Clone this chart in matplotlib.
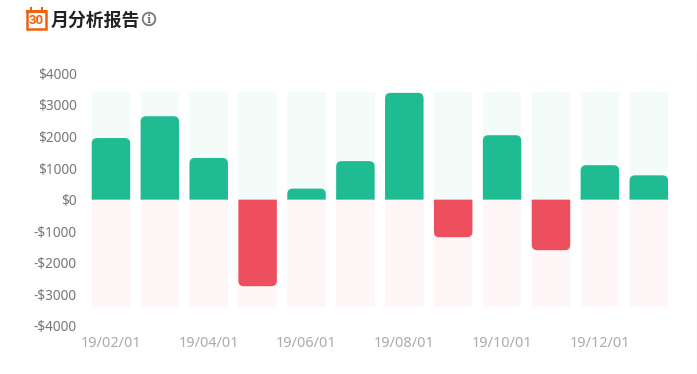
import numpy as np
import matplotlib
matplotlib.use("Agg")
import matplotlib.pyplot as plt
from matplotlib.path import Path
from matplotlib.patches import PathPatch, Rectangle, Circle

months = ['19/02/01', '19/03/01', '19/04/01', '19/05/01', '19/06/01', '19/07/01',
          '19/08/01', '19/09/01', '19/10/01', '19/11/01', '19/12/01', '20/01/01']
values = [1950, 2640, 1320, -2740, 350, 1220, 3380, -1190, 2040, -1600, 1090, 770]
back_top = 3400
back_bottom = -3400
y_ticks = [-4000, -3000, -2000, -1000, 0, 1000, 2000, 3000, 4000]
y_labels = ['-$4000', '-$3000', '-$2000', '-$1000', '$0', '$1000', '$2000', '$3000', '$4000']

GREEN = '#1fbc94'
RED = '#ee4f5f'
W, H = 697, 374

plt.rcParams['font.family'] = ['Noto Sans CJK SC', 'DejaVu Sans']


def px_axes(fig, left, top, right, bottom):
    return fig.add_axes([left / W, 1 - bottom / H, (right - left) / W, (bottom - top) / H])


def round_bar(ax, x, v, width, rx, ry):
    # only the far end of the bar gets round corners
    l, r = x - width / 2, x + width / 2
    s = 1 if v > 0 else -1
    ry = min(ry, abs(v))
    verts = [(l, 0), (l, v - s * ry), (l, v), (l + rx, v), (r - rx, v), (r, v), (r, v - s * ry), (r, 0), (l, 0)]
    codes = [Path.MOVETO, Path.LINETO, Path.CURVE3, Path.CURVE3, Path.LINETO,
             Path.CURVE3, Path.CURVE3, Path.LINETO, Path.CLOSEPOLY]
    ax.add_patch(PathPatch(Path(verts, codes), fc=GREEN if v > 0 else RED, ec='none', zorder=3))


def main():
    fig = plt.figure(figsize=(W / 100, H / 100), dpi=100)

    ax = px_axes(fig, 86.5, 73.3, 673.2, 326)
    x = np.arange(len(months))
    bar_w = 38.5 / 48.9
    ax.bar(x, [back_top] * len(x), width=bar_w, color='#f3fcf9', zorder=1)
    ax.bar(x, [back_bottom] * len(x), width=bar_w, color='#fff6f7', zorder=1)
    rx = 5.5 / 48.9
    ry = 5.5 / 253 * 8000
    for i, v in enumerate(values):
        round_bar(ax, i, v, bar_w, rx, ry)

    ax.set_xlim(-0.5, len(months) - 0.5)
    ax.set_ylim(-4000, 4000)
    ax.set_yticks(y_ticks)
    ax.set_yticklabels(y_labels, color='#777777', fontsize=9.8, family=['Noto Sans', 'DejaVu Sans'])
    ax.set_xticks(x[::2])
    ax.set_xticklabels(months[::2], color='#aaaaaa', fontsize=10.4, family=['Noto Sans', 'DejaVu Sans'])
    ax.tick_params(axis='y', length=0, pad=6.8)
    ax.tick_params(axis='x', length=0, pad=7.2)
    for s in ax.spines.values():
        s.set_visible(False)

    # header, drawn on a full figure overlay in pixel coordinates
    top = fig.add_axes([0, 0, 1, 1], zorder=5)
    top.set_xlim(0, W)
    top.set_ylim(H, 0)
    top.axis('off')
    top.add_patch(Rectangle((26.7, 10.5), 19, 18, fc='white', ec='#f4600c', lw=1.8))
    top.add_patch(Rectangle((26, 10), 20.5, 2.8, fc='#f4600c', ec='none'))
    top.plot([31, 31], [7.5, 11], color='#f4600c', lw=1.5)
    top.plot([41.5, 41.5], [7.5, 11], color='#f4600c', lw=1.5)
    top.text(36.2, 20.6, '30', color='#f4600c', fontsize=9.5, fontweight='bold', ha='center', va='center',
             family=['Roboto', 'DejaVu Sans'])
    top.text(51, 20.5, '月分析报告', color='#222222', fontsize=12.9, fontweight='bold', va='center')
    top.add_patch(Circle((149, 19), 6.3, fc='none', ec='#777777', lw=1.3))
    top.text(149, 19, 'i', color='#777777', fontsize=8, fontweight='bold', ha='center', va='center',
             family=['DejaVu Serif'])
    top.plot([696.5, 696.5], [50, 374], color='#f0f0f0', lw=1)

    fig.savefig('out.png', dpi=100)


if __name__ == "__main__":
    main()
